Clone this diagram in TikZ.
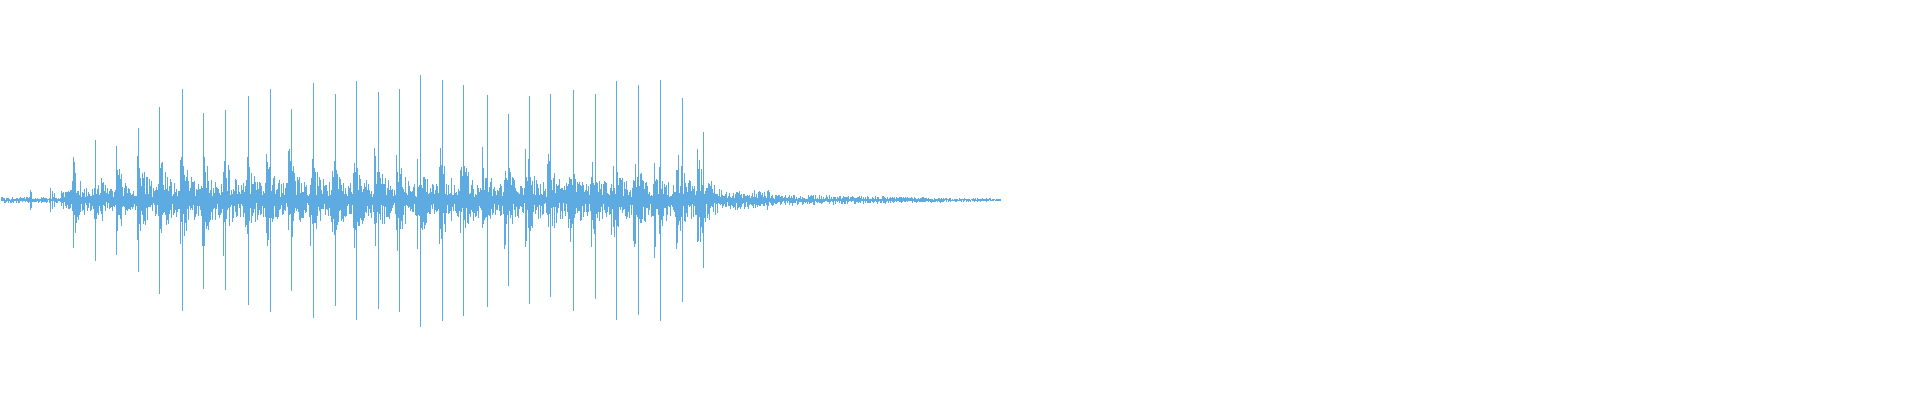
\documentclass[tikz,border=0pt]{standalone}
\usepackage{tikz}
\definecolor{wave}{RGB}{94,171,226}
\begin{document}
\begin{tikzpicture}[x=0.5pt, y=0.5pt, wave line/.style={draw=wave, line width=0.45pt}]
    \useasboundingbox (0,0) rectangle (1920,400);
    \pgfmathsetseed{4711}
    % background noise with bursts after each spike
    \foreach \x in {1,...,1000} {
        \pgfmathsetmacro{\base}{\x<60 ? 3 : (\x<140 ? 9 : (\x<720 ? 16 : (\x<770 ? 10 : max(1.5,6-(\x-770)*0.02))))}
        \pgfmathsetmacro{\burst}{(\x>=68 && \x<=712) ? 48*exp(-mod(\x-72+21.55,21.55)/6) : 0}
        \pgfmathsetmacro{\up}{(\base+\burst)*(0.15+0.85*rnd)}
        \pgfmathsetmacro{\dn}{(\base+\burst)*(0.15+0.85*rnd)}
        \draw[wave line] (\x,200+\up) -- (\x,200-\dn);
    }
    % small early bursts
    \foreach \x/\a in {30/10, 31/8, 50/12, 52/9, 54/7} {
        \draw[wave line] (\x,200+\a) -- (\x,200-\a);
    }
    % main spikes
    \foreach \x/\u/\d in {73/37/37, 95/60/61, 116/54/55, 138/72/72, 159/93/94,
        182/111/111, 203/87/89, 225/90/90, 248/104/105, 270/111/112, 291/91/91,
        313/117/118, 335/106/106, 356/119/120, 378/108/109, 399/111/112,
        420/125/127, 442/120/121, 463/115/116, 487/105/107, 508/86/86,
        529/104/104, 550/106/97, 573/110/111, 595/106/99, 616/119/120,
        638/115/115, 660/120/121, 682/102/102, 703/68/68} {
        \draw[wave line] (\x,200+\u) -- (\x,200-\d);
    }
\end{tikzpicture}
\end{document}
